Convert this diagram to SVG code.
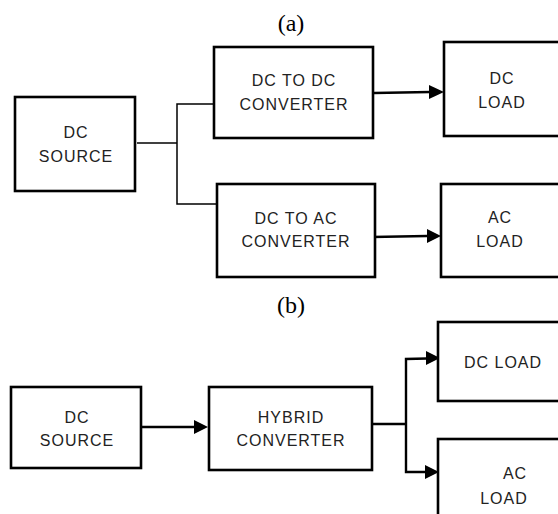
<svg xmlns="http://www.w3.org/2000/svg" width="558" height="514" viewBox="0 0 558 514">
<style>
.box{fill:#fff;stroke:#000;stroke-width:2.6}
.t{font-family:"Liberation Sans",Arial,sans-serif;font-size:16px;letter-spacing:1px;fill:#222;text-anchor:middle}
.cap{font-family:"Liberation Serif","Times New Roman",serif;font-size:24px;fill:#000;text-anchor:middle}
.thin{fill:none;stroke:#000;stroke-width:1.5}
.arr{fill:none;stroke:#000;stroke-width:2.4}
.ah{fill:#000}
</style>
<rect width="558" height="514" fill="#fff"/>
<text class="cap" x="291" y="31">(a)</text>
<text class="cap" x="291" y="313">(b)</text>
<g id="connectors">
<polyline class="thin" points="137,143 177,143"/>
<polyline class="thin" points="214,104 177,104 177,204 217,204"/>
<line class="arr" x1="374" y1="93" x2="430" y2="92"/>
<polygon class="ah" points="429,85 444,92 429,99"/>
<line class="arr" x1="372" y1="237" x2="427" y2="236"/>
<polygon class="ah" points="427,229 441,236 427,243"/>
<line class="arr" x1="137" y1="427" x2="194" y2="427"/>
<polygon class="ah" points="194,420 208,427 194,434"/>
<polyline class="arr" points="372,424 406,424"/>
<polyline class="arr" points="427,358.5 406,359 406,472 426,472"/>
<polygon class="ah" points="426,351 440,358 426,365"/>
<polygon class="ah" points="425,465 439,472 425,479"/>
</g>
<g id="dc-source-a"><rect class="box" x="15" y="97" width="120" height="94"/><text class="t" x="76" y="138">DC</text><text class="t" x="76" y="162">SOURCE</text></g>
<g id="dcdc-conv"><rect class="box" x="214" y="47" width="159" height="91"/><text class="t" x="294" y="86">DC TO DC</text><text class="t" x="294" y="110">CONVERTER</text></g>
<g id="dc-load-a"><rect class="box" x="444" y="42" width="116" height="94"/><text class="t" x="502" y="84">DC</text><text class="t" x="502" y="108">LOAD</text></g>
<g id="dcac-conv"><rect class="box" x="217" y="184" width="158" height="93"/><text class="t" x="296" y="224">DC TO AC</text><text class="t" x="296" y="247">CONVERTER</text></g>
<g id="ac-load-a"><rect class="box" x="441" y="184" width="119" height="93"/><text class="t" x="500" y="223">AC</text><text class="t" x="500" y="247">LOAD</text></g>
<g id="dc-source-b"><rect class="box" x="11" y="387" width="130" height="81"/><text class="t" x="77" y="423">DC</text><text class="t" x="77" y="446">SOURCE</text></g>
<g id="hybrid-conv"><rect class="box" x="209" y="387" width="163" height="83"/><text class="t" x="291" y="423">HYBRID</text><text class="t" x="291" y="446">CONVERTER</text></g>
<g id="dc-load-b"><rect class="box" x="438" y="322" width="122" height="79"/><text class="t" x="503" y="368">DC LOAD</text></g>
<g id="ac-load-b"><rect class="box" x="438" y="439" width="122" height="90"/><text class="t" x="515" y="479">AC</text><text class="t" x="504" y="504">LOAD</text></g>
</svg>
